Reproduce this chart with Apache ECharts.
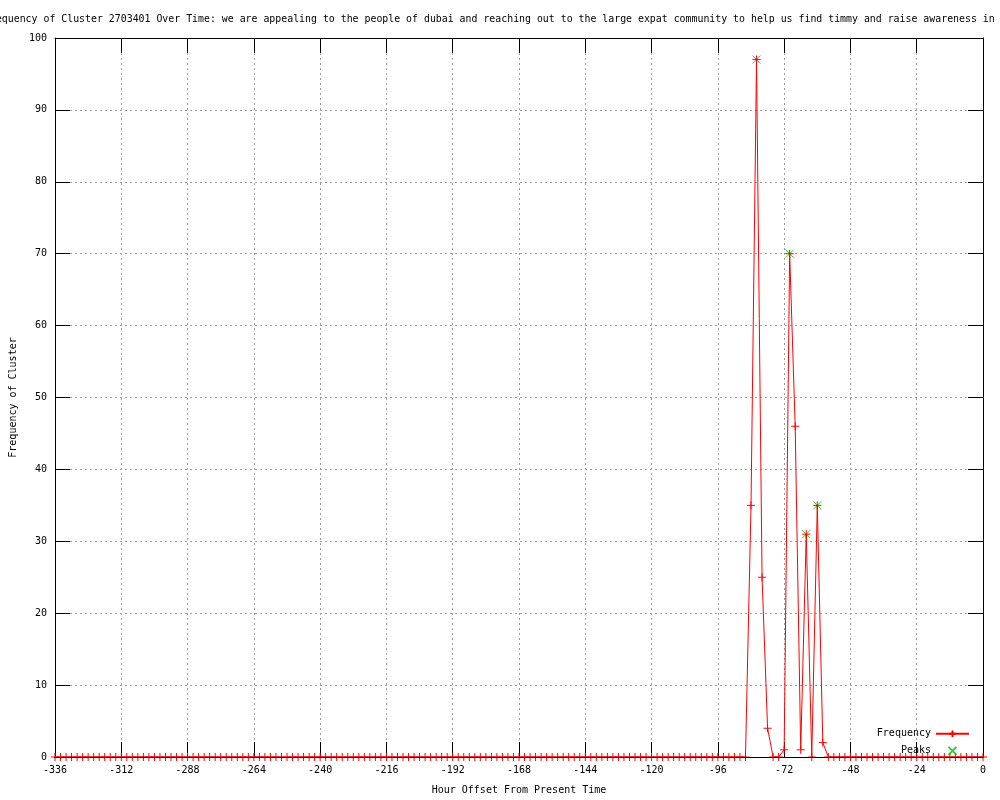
<!DOCTYPE html>
<html>
<head>
<meta charset="utf-8">
<script src="https://cdn.jsdelivr.net/npm/echarts@6/dist/echarts.min.js"></script>
<style>
html,body{margin:0;padding:0;background:#fff;overflow:hidden;}
#chart{width:1000px;height:800px;}
</style>
</head>
<body>
<div id="chart"></div>
<script>
var titleText = "Frequency of Cluster 2703401 Over Time: we are appealing to the people of dubai and reaching out to the large expat community to help us find timmy and raise awareness in";

var hours = [
-336,-334,-332,-330,-328,-326,-324,-322,-320,-318,-316,-314,-312,-310,
-308,-306,-304,-302,-300,-298,-296,-294,-292,-290,-288,-286,-284,-282,
-280,-278,-276,-274,-272,-270,-268,-266,-264,-262,-260,-258,-256,-254,
-252,-250,-248,-246,-244,-242,-240,-238,-236,-234,-232,-230,-228,-226,
-224,-222,-220,-218,-216,-214,-212,-210,-208,-206,-204,-202,-200,-198,
-196,-194,-192,-190,-188,-186,-184,-182,-180,-178,-176,-174,-172,-170,
-168,-166,-164,-162,-160,-158,-156,-154,-152,-150,-148,-146,-144,-142,
-140,-138,-136,-134,-132,-130,-128,-126,-124,-122,-120,-118,-116,-114,
-112,-110,-108,-106,-104,-102,-100,-98,-96,-94,-92,-90,-88,-86,
-84,-82,-80,-78,-76,-74,-72,-70,-68,-66,-64,-62,-60,-58,
-56,-54,-52,-50,-48,-46,-44,-42,-40,-38,-36,-34,-32,-30,
-28,-26,-24,-22,-20,-18,-16,-14,-12,-10,-8,-6,-4,-2,
0
];

var frequency = [
0,0,0,0,0,0,0,0,0,0,0,0,0,0,
0,0,0,0,0,0,0,0,0,0,0,0,0,0,
0,0,0,0,0,0,0,0,0,0,0,0,0,0,
0,0,0,0,0,0,0,0,0,0,0,0,0,0,
0,0,0,0,0,0,0,0,0,0,0,0,0,0,
0,0,0,0,0,0,0,0,0,0,0,0,0,0,
0,0,0,0,0,0,0,0,0,0,0,0,0,0,
0,0,0,0,0,0,0,0,0,0,0,0,0,0,
0,0,0,0,0,0,0,0,0,0,0,0,0,0,
35,97,25,4,0,0,1,70,46,1,31,0,35,2,
0,0,0,0,0,0,0,0,0,0,0,0,0,0,
0,0,0,0,0,0,0,0,0,0,0,0,0,0,
0
];

var peakHours = [-82, -70, -64, -60];
var peakValues = [97, 70, 31, 35];

var xTicks = {min: -336, max: 0, step: 24};
var yTicks = {min: 0, max: 100, step: 10};

var freqData = hours.map(function (h, i) { return [h, frequency[i]]; });
var peakData = peakHours.map(function (h, i) { return [h, peakValues[i]]; });

var FONT = "'DejaVu Sans Mono', monospace";
var plusPath = 'path://M0,5L10,5M5,0L5,10';
var crossPath = 'path://M0,0L10,10M10,0L0,10';
var gridLine = {show: true, lineStyle: {color: '#a0a0a0', type: [2, 3], width: 1}};

var chart = echarts.init(document.getElementById('chart'), null, {renderer: 'canvas'});
chart.setOption({
  animation: false,
  backgroundColor: '#ffffff',
  title: {
    text: titleText,
    left: -16,
    top: 14,
    padding: 0,
    textStyle: {fontFamily: FONT, fontSize: 9.9, fontWeight: 'normal', color: '#000'}
  },
  grid: {left: 55, right: 17, top: 38, bottom: 40, containLabel: false},
  legend: {
    orient: 'vertical',
    right: 30,
    top: 728,
    padding: 0,
    align: 'right',
    itemWidth: 33,
    itemHeight: 8,
    itemGap: 5,
    selectedMode: false,
    textStyle: {fontFamily: FONT, fontSize: 10, color: '#000'},
    data: ['Frequency', 'Peaks']
  },
  xAxis: [
    {
      type: 'value', position: 'bottom',
      min: xTicks.min, max: xTicks.max, interval: xTicks.step,
      name: 'Hour Offset From Present Time', nameLocation: 'middle', nameGap: 28,
      nameTextStyle: {fontFamily: FONT, fontSize: 10, color: '#000'},
      axisLine: {show: true, onZero: false, lineStyle: {color: '#000', width: 1}},
      axisTick: {show: true, inside: true, length: 15, lineStyle: {color: '#000'}},
      axisLabel: {show: true, margin: 8, fontFamily: FONT, fontSize: 10, color: '#000'},
      splitLine: gridLine
    },
    {
      type: 'value', position: 'top',
      min: xTicks.min, max: xTicks.max, interval: xTicks.step,
      axisLine: {show: true, onZero: false, lineStyle: {color: '#000', width: 1}},
      axisTick: {show: true, inside: true, length: 15, lineStyle: {color: '#000'}},
      axisLabel: {show: false},
      splitLine: {show: false}
    },
    {
      type: 'value', position: 'bottom', z: 5,
      min: xTicks.min, max: xTicks.max, interval: xTicks.step,
      axisLine: {show: true, onZero: false, lineStyle: {color: '#000', width: 1}},
      axisTick: {show: false},
      axisLabel: {show: false},
      splitLine: {show: false}
    }
  ],
  yAxis: [
    {
      type: 'value', position: 'left',
      min: yTicks.min, max: yTicks.max, interval: yTicks.step,
      name: 'Frequency of Cluster', nameLocation: 'middle', nameGap: 37, nameRotate: 90,
      nameTextStyle: {fontFamily: FONT, fontSize: 10, color: '#000'},
      axisLine: {show: true, onZero: false, lineStyle: {color: '#000', width: 1}},
      axisTick: {show: true, inside: true, length: 15, lineStyle: {color: '#000'}},
      axisLabel: {show: true, margin: 8, fontFamily: FONT, fontSize: 10, color: '#000'},
      splitLine: gridLine
    },
    {
      type: 'value', position: 'right',
      min: yTicks.min, max: yTicks.max, interval: yTicks.step,
      axisLine: {show: true, onZero: false, lineStyle: {color: '#000', width: 1}},
      axisTick: {show: true, inside: true, length: 15, lineStyle: {color: '#000'}},
      axisLabel: {show: false},
      splitLine: {show: false}
    }
  ],
  series: [
    {
      name: 'Frequency',
      type: 'line',
      xAxisIndex: 0, yAxisIndex: 0,
      data: freqData,
      symbol: plusPath,
      symbolSize: 8,
      showSymbol: true,
      showAllSymbol: true,
      lineStyle: {color: '#ff0000', width: 1},
      itemStyle: {color: 'none', borderColor: '#ff0000', borderWidth: 1},
      emphasis: {disabled: true},
      z: 3
    },
    {
      name: 'Peaks',
      type: 'scatter',
      xAxisIndex: 0, yAxisIndex: 0,
      data: peakData,
      symbol: crossPath,
      symbolSize: 8,
      itemStyle: {color: 'none', borderColor: '#00c000', borderWidth: 1},
      emphasis: {disabled: true},
      z: 2
    }
  ]
});
</script>
</body>
</html>
